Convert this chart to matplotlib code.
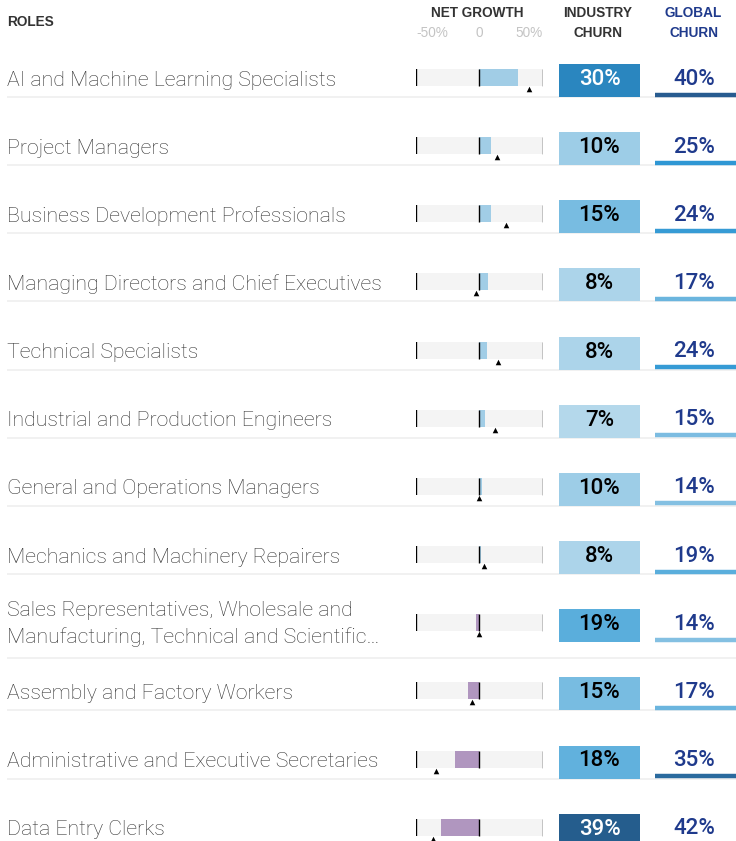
import matplotlib.pyplot as plt
from matplotlib.colors import LinearSegmentedColormap

# Data
roles = [
    "AI and Machine Learning Specialists",
    "Project Managers",
    "Business Development Professionals",
    "Managing Directors and Chief Executives",
    "Technical Specialists",
    "Industrial and Production Engineers",
    "General and Operations Managers",
    "Mechanics and Machinery Repairers",
    "Sales Representatives, Wholesale and\nManufacturing, Technical and Scientific\u2026",
    "Assembly and Factory Workers",
    "Administrative and Executive Secretaries",
    "Data Entry Clerks",
]
net_growth = [30, 9, 9, 7, 6, 4, 2, 1.5, -3, -9, -19, -30]
growth_marker = [39, 14, 20.5, -3, 14.5, 12.5, 0, 3.5, 0, -6, -34, -36.5]
industry_churn = [30, 10, 15, 8, 8, 7, 10, 8, 19, 15, 18, 39]
global_churn = [40, 25, 24, 17, 24, 15, 14, 19, 14, 17, 35, 42]
growth_ticks = [-50, 0, 50]
growth_tick_labels = ["-50%", "0", "50%"]

# colour scales for the churn columns
ind_nodes = [(7, "#b4d8eb"), (19, "#5aaedc"), (30, "#2a86c0"), (39, "#255d8d")]
glob_nodes = [(14, "#84c0e2"), (19, "#5aaedc"), (25, "#2f97d4"), (35, "#2a6a9e"), (42, "#27578a")]


def make_scale(nodes):
    lo, hi = nodes[0][0], nodes[-1][0]
    cmap = LinearSegmentedColormap.from_list(
        "s", [((v - lo) / (hi - lo), c) for v, c in nodes])
    return lambda v: cmap((v - lo) / (hi - lo))


ind_color = make_scale(ind_nodes)
glob_color = make_scale(glob_nodes)

W, H = 736, 841
fig = plt.figure(figsize=(W / 100, H / 100), dpi=100)
ax = fig.add_axes([0, 0, 1, 1])
ax.set_xlim(0, W)
ax.set_ylim(H, 0)
ax.axis("off")

# net growth panel
gx0, gx1 = 416, 543
gax = fig.add_axes([gx0 / W, 0, (gx1 - gx0) / W, 1])
gax.set_xlim(-50, 50)
gax.set_ylim(H, 0)
gax.axis("off")

n = len(roles)
row_y = [80.5 + 68.15 * i for i in range(n)]

label_font = dict(family="Roboto", weight="light")
num_font = dict(family="Roboto", weight="medium")
head_font = dict(family="Liberation Sans", weight="bold")
navy = "#1f3a8c"
hs = 9.8

# headers
ax.text(7, 22, "ROLES", fontsize=hs, color="#333333", va="center", **head_font)
ax.text(477.5, 13, "NET GROWTH", fontsize=hs, color="#333333", ha="center", va="center", **head_font)
for t, lab, ha in zip(growth_ticks, growth_tick_labels, ["left", "center", "right"]):
    gax.text(t, 33, lab, fontsize=hs, color="#c4c4c4",
             ha=ha, va="center", family="Liberation Sans")
ax.text(597.5, 13, "INDUSTRY", fontsize=hs, color="#333333", ha="center", va="center", **head_font)
ax.text(597.5, 33, "CHURN", fontsize=hs, color="#333333", ha="center", va="center", **head_font)
ax.text(693.5, 13, "GLOBAL", fontsize=hs, color=navy, ha="center", va="center", **head_font)
ax.text(693.5, 33, "CHURN", fontsize=hs, color=navy, ha="center", va="center", **head_font)

bar_y = [y - 3 for y in row_y]
gax.barh(bar_y, [100] * n, left=-50, height=17, color="#f4f4f4", zorder=1)
gax.barh(bar_y, net_growth, height=17,
         color=["#a1cde6" if v >= 0 else "#b096bf" for v in net_growth], zorder=2)
for t, lw in zip(growth_ticks, [1.7, 1.0, 1.0]):
    gax.vlines([t] * n, [y - 8.5 for y in bar_y], [y + 8.5 for y in bar_y],
               color="black", lw=lw, zorder=3)
gax.scatter(growth_marker, [y + 8.5 for y in row_y], marker="^", s=16,
            color="black", linewidths=0, zorder=4, clip_on=False)

for i, role in enumerate(roles):
    y = row_y[i]
    if "\n" in role:
        first, second = role.split("\n")
        ax.text(7, y - 9.7, first, fontsize=15.3, color="#333333", va="baseline", **label_font)
        ax.text(7, y + 17.6, second, fontsize=15.3, color="#333333", va="baseline", **label_font)
        sep = y + 32
    else:
        ax.text(7, y + 5, role, fontsize=15.3, color="#333333", va="baseline", **label_font)
        sep = y + 16.5
    ax.hlines(sep, 7, W, color="#efefef", lw=1.2, zorder=0)

    # industry churn box
    v = industry_churn[i]
    ax.barh(y, 81, left=559, height=33, color=ind_color(v), zorder=2)
    ax.text(599.5, y - 1, f"{v}%", fontsize=16, ha="center", va="center",
            color="white" if v >= 30 else "black", zorder=3, **num_font)

    # global churn
    g = global_churn[i]
    ax.text(694, y - 1.5, f"{g}%", fontsize=16, ha="center", va="center",
            color=navy, zorder=3, **num_font)
    ax.hlines(y + 14, 655, W, color=glob_color(g), lw=3.2, zorder=2)

fig.savefig("out.png", dpi=100)
